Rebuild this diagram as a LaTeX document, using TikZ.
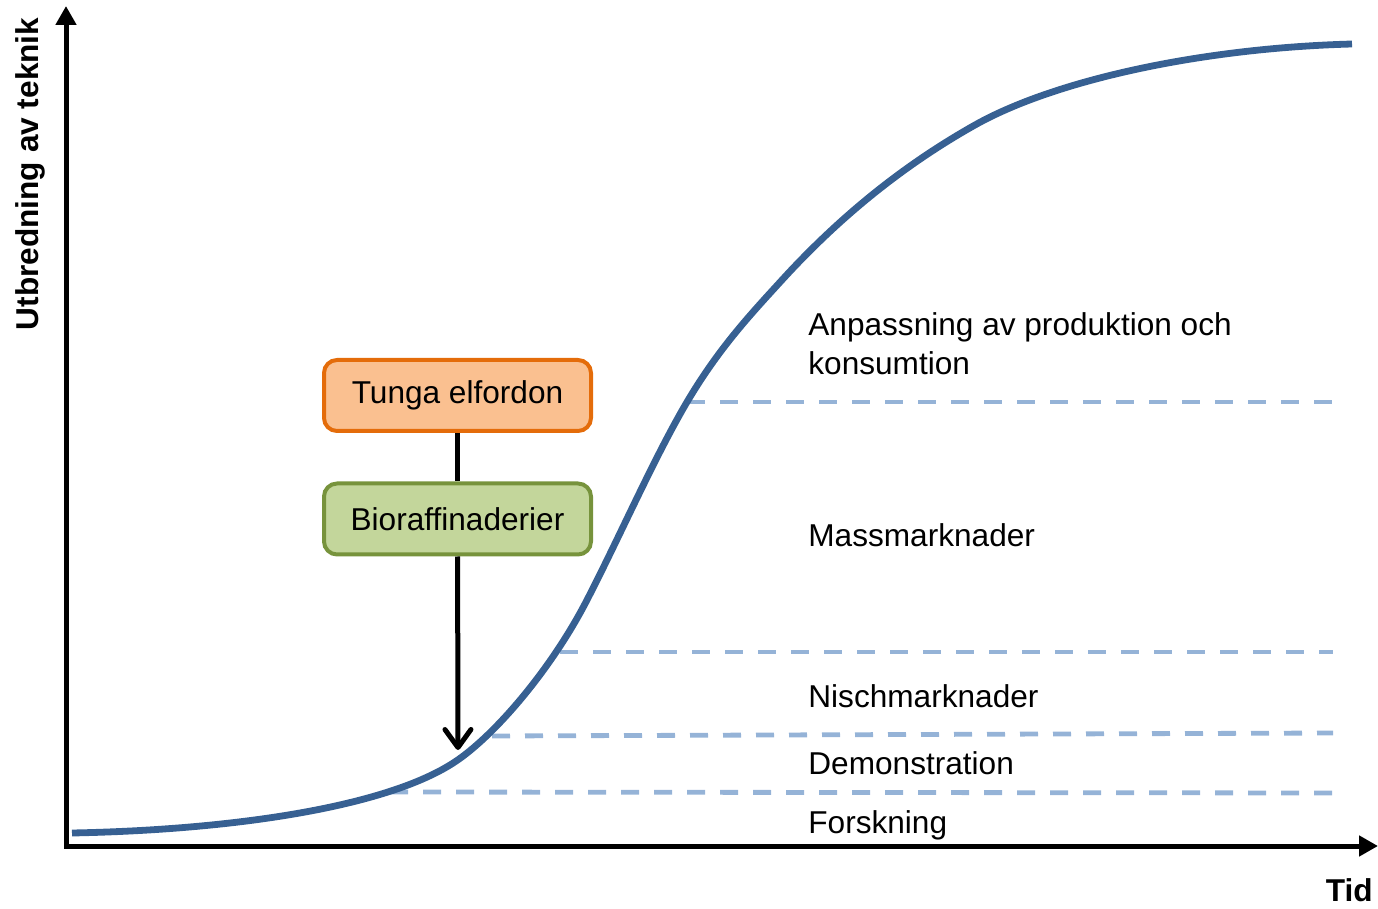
\documentclass[tikz,border=0pt]{standalone}
\usepackage{fontspec}
\setmainfont{Liberation Sans}
\usepackage{xcolor}
\usepackage{tikz}
\usetikzlibrary{arrows.meta}

\definecolor{curveblue}{HTML}{376092}
\definecolor{dashblue}{HTML}{95B3D7}
\definecolor{orangefill}{HTML}{FAC090}
\definecolor{orangeline}{HTML}{E46C0A}
\definecolor{greenfill}{HTML}{C3D69B}
\definecolor{greenline}{HTML}{77933C}

\tikzset{
    techbox/.style={draw, line width=2pt, rounded corners=6.5pt, minimum width=133.5pt,
        minimum height=35.5pt, inner sep=0pt},
    phase/.style={anchor=base west, inner sep=0pt, align=left},
    level/.style={dashblue, line width=2.4pt, dash pattern=on 9pt off 7.5pt},
    axis/.style={line width=2.5pt, {Triangle[length=9.5pt,width=10pt]}-{Triangle[length=9.5pt,width=10pt]}},
}

\begin{document}
\begin{tikzpicture}[x=0.5pt, y=-0.5pt, font=\fontsize{15.8}{19.5}\selectfont]
            \useasboundingbox (0,0) rectangle (1378,909);

            \coordinate (ytip) at (66,6);
            \coordinate (origin) at (66,846);
            \coordinate (xtip) at (1378,846);
            \draw[axis] (ytip) -- (origin) -- (xtip);

            \node[rotate=90, anchor=base, inner sep=0pt] (ylabel) at (39,174) {\bfseries Utbredning av teknik};
            \node[anchor=base east, inner sep=0pt] (xlabel) at (1373,901) {\bfseries Tid};

            % stage borders
            \draw[level] (687,402) -- (1345,402);
            \draw[level] (560,652) -- (1333,652);
            \draw[level] (492,736) -- (1333,733);
            \draw[level] (390,792) -- (1345,793);

            % s-curve
            \draw[curveblue, line width=3.4pt]
                (72,833) .. controls (230,830) and (380,808) .. (450,765)
                .. controls (490,741) and (550,672) .. (587,600)
                .. controls (620,536) and (654,458) .. (687,402)
                .. controls (719,348) and (750,315) .. (782,280)
                .. controls (846,210) and (911,161) .. (975,125)
                .. controls (1055,80) and (1202,48) .. (1352,44);

            \node[phase] (adapt) at (808,375) {Anpassning av produktion och\\konsumtion};
            \node[phase] (mass) at (808,546) {Massmarknader};
            \node[phase] (niche) at (808,707) {Nischmarknader};
            \node[phase] (demo) at (808,774) {Demonstration};
            \node[phase] (research) at (808,833) {Forskning};

            \node[techbox, draw=orangeline, fill=orangefill] (trucks) at (457.5,395.5) {Tunga elfordon};
            \node[techbox, draw=greenline, fill=greenfill] (biorefinery) at (457.5,519) {Bioraffinaderier};
            \coordinate (today) at (458,750);

            \draw[line width=2.5pt] (trucks) -- (biorefinery);
            \draw[line width=2.5pt, -{Straight Barb[length=9pt,width=13pt,round]}] (biorefinery) -- (today);
        \end{tikzpicture}
\end{document}
